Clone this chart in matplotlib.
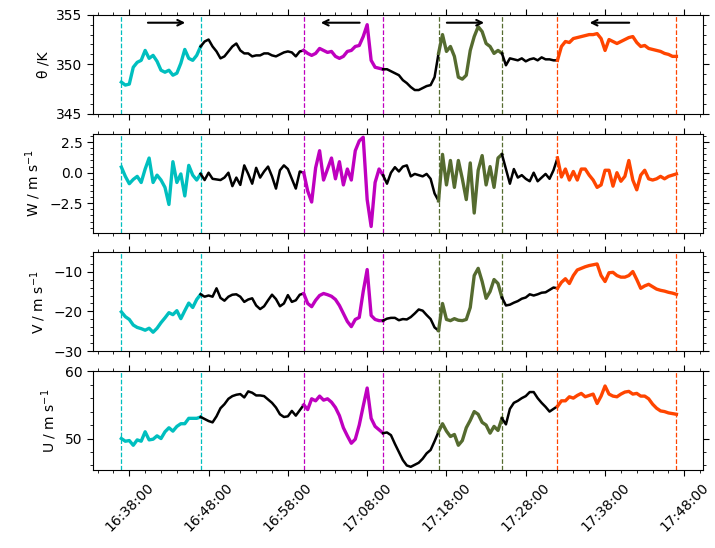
import matplotlib
matplotlib.use("Agg")
import matplotlib.pyplot as plt
import matplotlib.dates as mdates
from matplotlib.ticker import AutoMinorLocator
import pandas as pd

# sample times: every 30 s from 16:37:00 to 17:47:00
start = pd.Timestamp("2000-01-01 16:37:00")
times = pd.date_range(start, periods=141, freq="30s")

theta = [348.2, 347.9, 348.0, 349.7, 350.2, 350.4, 351.4, 350.6, 350.9, 350.3,
         349.4, 349.2, 349.4, 348.9, 349.1, 350.1, 351.5, 350.6, 350.4, 350.9,
         351.8, 352.3, 352.5, 351.8, 351.3, 350.6, 350.8, 351.3, 351.8, 352.1,
         351.4, 351.1, 351.1, 350.8, 350.9, 350.9, 351.1, 351.1, 350.9, 350.8,
         351.0, 351.2, 351.3, 351.2, 350.8, 351.3, 351.4, 351.1, 350.9, 351.1,
         351.6, 351.4, 351.2, 351.3, 350.8, 350.6, 350.8, 351.3, 351.4, 351.8,
         351.9, 352.8, 354.0, 350.4, 349.7, 349.6, 349.5, 349.5, 349.3, 349.1,
         348.9, 348.4, 348.1, 347.7, 347.4, 347.4, 347.6, 347.8, 347.9, 348.7,
         351.1, 353.0, 351.3, 351.8, 350.8, 348.7, 348.5, 348.9, 351.4, 352.8,
         353.8, 353.3, 352.1, 351.8, 351.1, 351.4, 351.1, 349.9, 350.6, 350.5,
         350.4, 350.6, 350.3, 350.5, 350.6, 350.4, 350.7, 350.5, 350.5, 350.4,
         350.4, 351.8, 352.3, 352.2, 352.6, 352.7, 352.8, 352.9, 353.0, 353.0,
         353.1, 352.6, 351.4, 352.5, 352.3, 352.1, 352.3, 352.5, 352.7, 352.8,
         352.2, 351.8, 351.9, 351.6, 351.5, 351.4, 351.3, 351.1, 351.0, 350.8,
         350.8]

w = [0.46, -0.3, -0.9, -0.55, -0.3, -0.8, 0.3, 1.2, -0.8, -0.2,
     -0.6, -1.2, -2.6, 0.9, -0.8, -0.1, -1.9, 0.6, -0.2, -0.6,
     -0.1, -0.6, 0.0, -0.5, -0.55, -0.6, -0.4, 0.0, -1.1, -0.4,
     -1.0, 0.6, -0.1, -0.9, 0.4, -0.4, 0.1, 0.5, -0.3, -1.3,
     0.2, 0.6, 0.3, -0.5, -1.3, 0.1, 0.0, -1.5, -2.4, 0.4,
     1.8, -0.6, 0.3, 1.2, -0.5, 0.9, -1.0, 0.3, -0.6, 1.8,
     2.6, 2.9, -2.2, -4.4, -0.8, 0.3, -0.2, -0.9, 0.0, 0.45,
     0.1, 0.5, 0.6, -0.3, -0.1, -0.2, -0.3, -0.1, -0.5, -1.7,
     -2.3, 1.5, -1.0, 1.0, -1.2, 1.0, -0.5, -2.2, 0.8, -3.3,
     0.2, 1.4, -1.0, 0.5, -1.2, 1.2, 1.5, 0.3, -0.9, 0.3,
     -0.4, -0.2, -0.5, -0.7, 0.0, -0.7, -0.4, -0.1, -0.5, 0.2,
     1.2, -0.35, 0.3, -0.6, 0.1, -0.6, 0.3, 0.3, -0.2, -0.6,
     -1.2, -1.0, 0.2, 0.2, -1.1, 0.0, -0.7, -0.3, 1.0, -0.6,
     -1.4, -0.2, 0.2, -0.5, -0.6, -0.5, -0.3, -0.5, -0.3, -0.2,
     -0.1]

v = [-20.1, -21.3, -22.0, -23.4, -24.0, -24.3, -24.7, -24.2, -25.2, -24.2,
     -22.8, -21.6, -20.3, -20.8, -19.8, -21.8, -19.8, -17.9, -19.0, -17.0,
     -15.7, -16.3, -16.0, -16.3, -14.2, -16.6, -17.3, -16.3, -15.8, -15.7,
     -16.3, -17.6, -17.0, -16.7, -18.5, -19.4, -18.7, -17.2, -15.8, -16.9,
     -18.7, -18.0, -15.9, -17.6, -17.2, -15.8, -15.5, -18.0, -18.8, -17.2,
     -16.0, -15.5, -15.8, -16.2, -17.0, -18.5, -20.5, -22.5, -23.8, -22.0,
     -21.5, -15.0, -9.5, -21.0, -22.0, -22.3, -22.3, -21.8, -21.6, -21.6,
     -22.2, -21.9, -22.0, -21.4, -20.5, -19.5, -19.8, -20.9, -21.9, -24.0,
     -24.8, -18.0, -22.0, -22.3, -21.8, -22.2, -22.3, -22.0, -19.0, -11.0,
     -9.2, -12.5, -16.7, -15.0, -12.0, -13.0, -16.5, -18.5, -18.3, -17.8,
     -17.4, -16.8, -16.5, -15.7, -16.0, -15.7, -15.3, -15.2, -14.6, -14.0,
     -14.2, -12.7, -11.8, -13.0, -11.0, -9.6, -9.2, -8.8, -8.5, -8.3,
     -8.1, -11.0, -12.5, -10.3, -10.2, -11.0, -11.4, -11.4, -11.0, -10.0,
     -12.0, -14.2, -13.6, -13.2, -13.8, -14.4, -14.7, -14.9, -15.2, -15.4,
     -15.7]

u = [50.0, 49.6, 49.7, 49.0, 49.8, 49.6, 51.0, 49.8, 49.9, 50.4,
     50.0, 51.0, 51.6, 51.1, 51.8, 52.2, 52.2, 53.0, 53.0, 53.0,
     53.2, 52.9, 52.6, 52.4, 53.3, 54.5, 55.1, 55.9, 56.3, 56.5,
     56.6, 56.1, 57.0, 56.8, 56.4, 56.4, 56.3, 55.8, 55.3, 54.6,
     53.6, 53.2, 53.3, 54.1, 53.4, 54.2, 55.0, 54.3, 55.9, 55.6,
     56.3, 55.7, 55.9, 55.4, 54.6, 53.4, 51.6, 50.4, 49.3, 49.9,
     52.0, 54.8, 57.5, 53.0, 51.8, 51.3, 50.8, 50.9, 50.5, 49.2,
     48.0, 46.8, 46.0, 45.8, 46.1, 46.4, 47.0, 47.8, 48.3, 49.6,
     51.0, 52.2, 51.1, 50.3, 50.6, 49.0, 49.7, 51.6, 52.7, 54.0,
     53.6, 52.4, 52.0, 50.8, 51.8, 51.2, 53.0, 52.1, 54.4, 55.3,
     55.6, 56.0, 56.3, 56.9, 56.9, 56.0, 55.3, 54.7, 54.0, 54.4,
     54.8, 55.6, 55.6, 56.2, 56.0, 56.4, 56.7, 56.2, 56.4, 56.6,
     55.2, 56.3, 57.8, 56.6, 56.3, 56.2, 56.6, 56.9, 57.0, 56.6,
     56.7, 56.3, 56.3, 55.9, 55.1, 54.5, 54.1, 54.0, 53.8, 53.7,
     53.6]

# segments in minutes after 16:37
seg_start = [0, 10, 23, 33, 40, 48, 55]
seg_end = [10, 23, 33, 40, 48, 55, 70]
seg_color = ["c", "k", "m", "k", "darkolivegreen", "k", "orangered"]

# flight-leg arrows on the theta panel (tail, head) in minutes after 16:37
arrow_tail = [3.0, 30.4, 40.7, 64.4]
arrow_head = [8.4, 24.8, 46.1, 58.7]

series = [theta, w, v, u]
ylabels = [r"θ /K", r"W / m s$^{-1}$", r"V / m s$^{-1}$", r"U / m s$^{-1}$"]
ylims = [(345, 355), (-4.9, 3.2), (-30, -5.2), (45.3, 60)]
yticks = [[345, 350, 355], [-2.5, 0.0, 2.5], [-30, -20, -10], [50, 60]]

fig, axes = plt.subplots(4, 1, sharex=True, figsize=(7.15, 5.48), dpi=100)
fig.subplots_adjust(left=0.130, right=0.983, top=0.973, bottom=0.142, hspace=0.2)

for ax, data, lab, lim, tks in zip(axes, series, ylabels, ylims, yticks):
    for s, e, c in zip(seg_start, seg_end, seg_color):
        i0, i1 = int(s * 2), int(e * 2)
        ax.plot(times[i0:i1 + 1], data[i0:i1 + 1], color=c,
                lw=1.8 if c == "k" else 2.4)
        if c != "k":
            for t in (s, e):
                ax.axvline(start + pd.Timedelta(minutes=t), color=c,
                           ls="--", lw=0.9)
    ax.set_ylim(*lim)
    ax.set_yticks(tks)
    ax.yaxis.set_minor_locator(AutoMinorLocator(5))
    ax.set_ylabel(lab, fontsize=10)
    ax.tick_params(which="both", direction="out", top=True, right=True,
                   labelsize=10)
    ax.tick_params(which="major", length=4)
    ax.tick_params(which="minor", length=2.5)

for t0, t1 in zip(arrow_tail, arrow_head):
    axes[0].annotate("", xy=(mdates.date2num(start + pd.Timedelta(minutes=t1)), 354.2),
                     xytext=(mdates.date2num(start + pd.Timedelta(minutes=t0)), 354.2),
                     arrowprops=dict(arrowstyle="->", color="k", lw=1.5))

ax = axes[-1]
ax.set_xlim(pd.Timestamp("2000-01-01 16:33:25"), pd.Timestamp("2000-01-01 17:50:20"))
ax.xaxis.set_major_locator(mdates.MinuteLocator(byminute=[8, 18, 28, 38, 48, 58]))
ax.xaxis.set_minor_locator(mdates.MinuteLocator(byminute=range(0, 60, 2)))
ax.xaxis.set_major_formatter(mdates.DateFormatter("%H:%M:%S"))
plt.setp(ax.get_xticklabels(), rotation=45)

plt.savefig("out.png")
